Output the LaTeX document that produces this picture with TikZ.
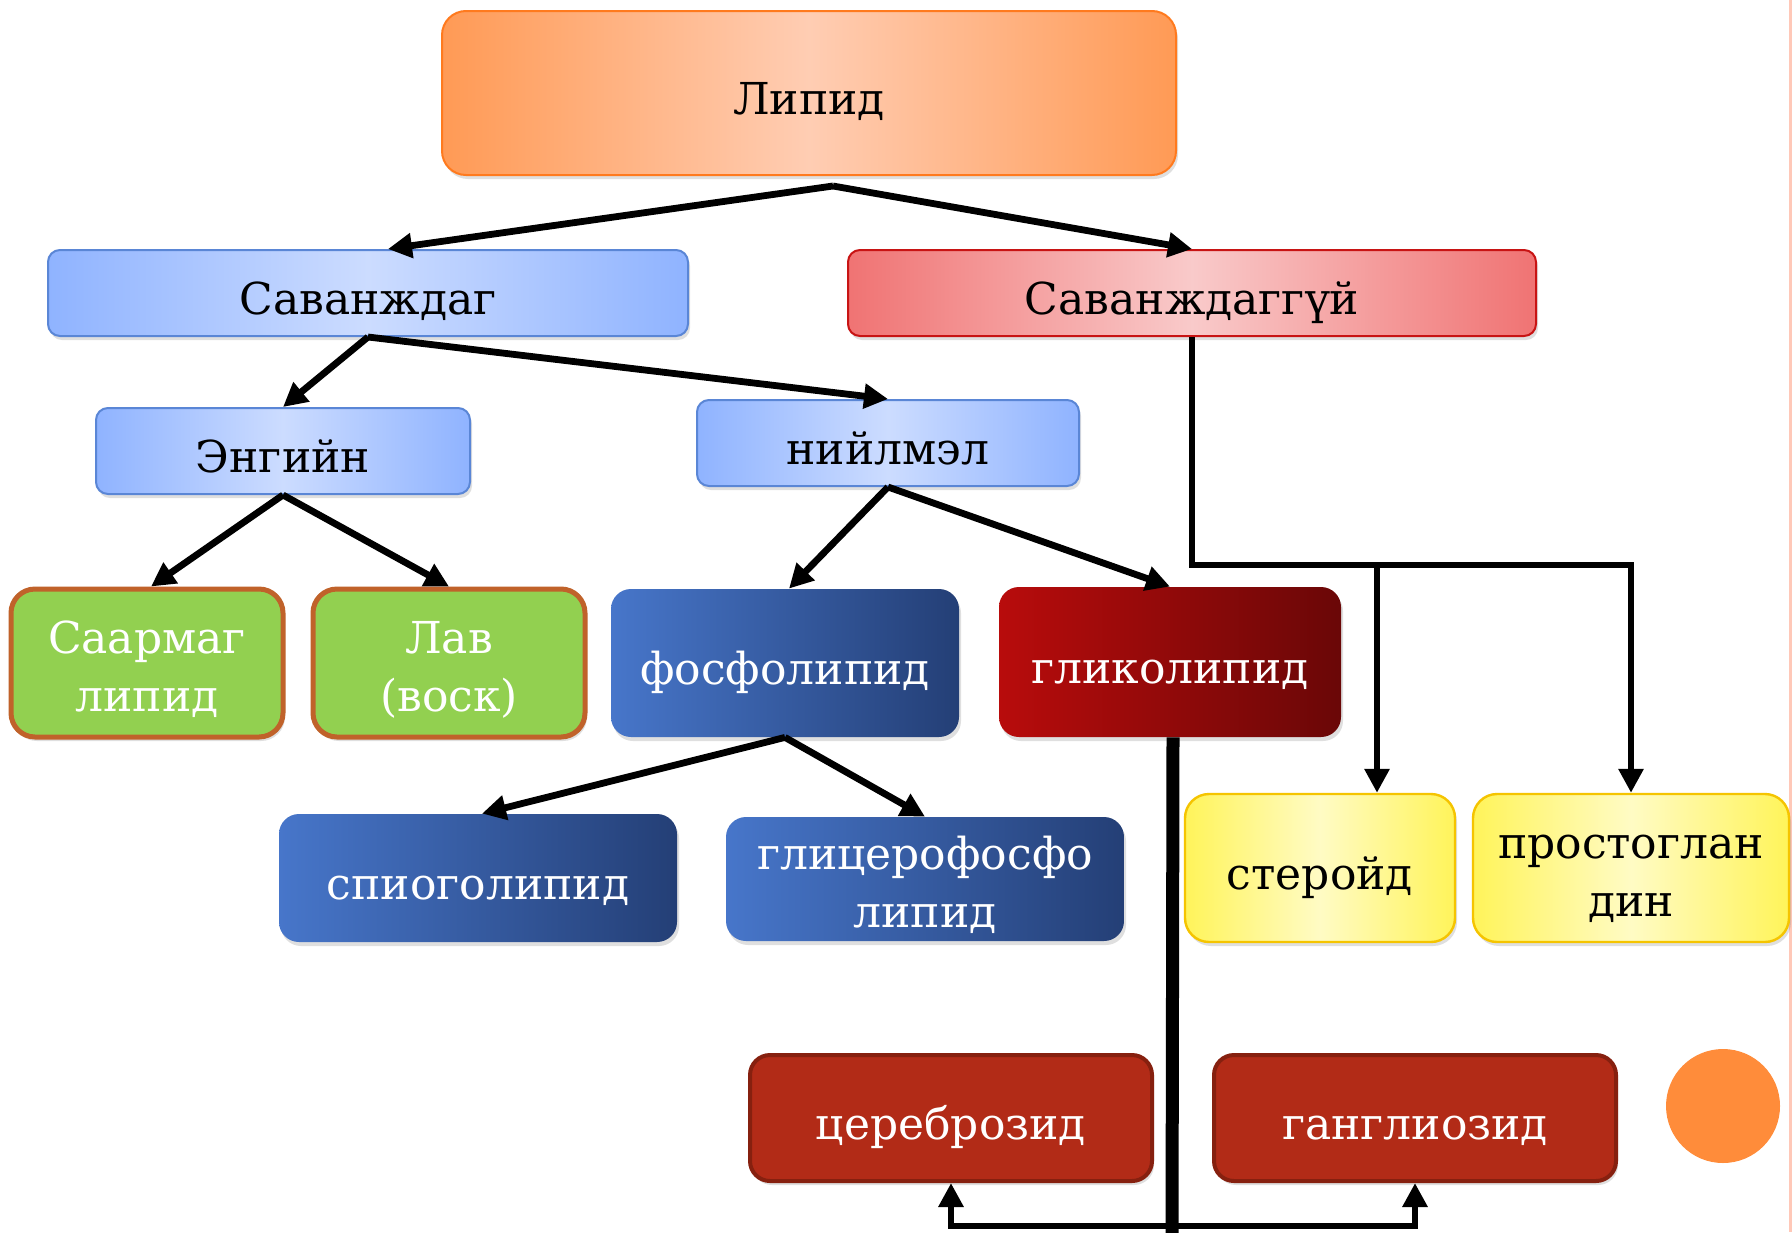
\documentclass[tikz,border=0pt]{standalone}
\usepackage{fontspec}
\setmainfont{DejaVu Serif}
\usetikzlibrary{shapes,arrows.meta,shadows}

\definecolor{peachedge}{HTML}{FF9A55}
\definecolor{peachmid}{HTML}{FFCDB3}
\definecolor{peachline}{HTML}{FF7A1E}
\definecolor{blueedge}{HTML}{8FB3FF}
\definecolor{bluemid}{HTML}{CCDCFF}
\definecolor{blueline}{HTML}{5A86D6}
\definecolor{pinkedge}{HTML}{F07373}
\definecolor{pinkmid}{HTML}{F9CACA}
\definecolor{redline}{HTML}{C81414}
\definecolor{leafgreen}{HTML}{92D050}
\definecolor{rustline}{HTML}{C0622A}
\definecolor{navyleft}{HTML}{4776CA}
\definecolor{navyright}{HTML}{243F76}
\definecolor{wineleft}{HTML}{B80C0C}
\definecolor{wineright}{HTML}{6A0707}
\definecolor{lemonedge}{HTML}{FFF45A}
\definecolor{lemonmid}{HTML}{FFFBC4}
\definecolor{lemonline}{HTML}{F5C400}
\definecolor{brick}{HTML}{B22B17}
\definecolor{brickline}{HTML}{86200F}
\definecolor{dotorange}{HTML}{FF8C3A}
\definecolor{edgepink}{HTML}{FFC8B8}

% invisible strut for the first of two lines
\newcommand{\firstline}{\rule{0pt}{24pt}}

\tikzset{
  box/.style={rounded corners=9pt, align=center, inner sep=2pt,
    font=\fontsize{22}{29}\selectfont,
    execute at begin node={\rule[-5pt]{0pt}{31pt}},
    drop shadow={opacity=0.25, shadow xshift=1pt, shadow yshift=-2pt}},
  peachbox/.style={box, draw=peachline, line width=1pt,
    left color=peachedge, right color=peachedge, middle color=peachmid},
  bluebox/.style={box, draw=blueline, line width=1pt,
    left color=blueedge, right color=blueedge, middle color=bluemid},
  pinkbox/.style={box, draw=redline, line width=1pt,
    left color=pinkedge, right color=pinkedge, middle color=pinkmid},
  greenbox/.style={box, fill=leafgreen, draw=rustline, line width=2.5pt,
    text=white, rounded corners=12pt},
  navybox/.style={box, left color=navyleft, right color=navyright,
    text=white, rounded corners=10pt},
  winebox/.style={box, left color=wineleft, right color=wineright,
    text=white, rounded corners=10pt},
  lemonbox/.style={box, draw=lemonline, line width=1.2pt,
    left color=lemonedge, right color=lemonedge, middle color=lemonmid,
    rounded corners=12pt},
  brickbox/.style={box, fill=brick, draw=brickline, line width=2pt,
    text=white, rounded corners=10pt},
  arr/.style={line width=3.4pt, -{Triangle[length=12pt,width=12pt]}},
  trunk/.style={line width=6.5pt},
}

\begin{document}
\begin{tikzpicture}[x=0.5pt,y=-0.5pt]
    \useasboundingbox (0,0) rectangle (1792,1232);
    \fill[white] (0,0) rectangle (1792,1232);
    \draw[edgepink, line width=2pt] (1791,0) -- (1791,1232);

    % top level
    \node[peachbox, minimum width=367pt, minimum height=82pt, rounded corners=12pt]
        (lipid) at (809,93) {Липид};
    \node[bluebox, minimum width=320pt, minimum height=43pt, rounded corners=6pt]
        (sav) at (368,293) {Саванждаг};
    \node[pinkbox, minimum width=344pt, minimum height=43pt, rounded corners=6pt]
        (savgui) at (1192,293) {Саванждаггүй};

    % second level
    \node[bluebox, minimum width=187pt, minimum height=43pt, rounded corners=6pt]
        (engi) at (283,451) {Энгийн};
    \node[bluebox, minimum width=191pt, minimum height=43pt, rounded corners=6pt]
        (niil) at (888,443) {нийлмэл};

    % third level
    \node[greenbox, minimum width=136pt, minimum height=74pt]
        (saarmag) at (147,663) {\firstline Саармаг\\липид};
    \node[greenbox, minimum width=136pt, minimum height=74pt]
        (lav) at (449,663) {\firstline Лав\\(воск)};
    \node[navybox, minimum width=174pt, minimum height=74pt]
        (fosfo) at (785,663) {фосфолипид};
    \node[winebox, minimum width=171pt, minimum height=75pt]
        (gliko) at (1170,662) {гликолипид};

    % fourth level
    \node[navybox, minimum width=199pt, minimum height=64pt]
        (spio) at (478,878) {спиоголипид};
    \node[navybox, minimum width=199pt, minimum height=61pt]
        (glitser) at (925,879) {\firstline глицерофосфо\\липид};
    \node[lemonbox, minimum width=135pt, minimum height=74pt]
        (steroid) at (1320,868) {стеройд};
    \node[lemonbox, minimum width=158pt, minimum height=74pt]
        (prost) at (1631,868) {\firstline простоглан\\дин};

    % bottom
    \node[brickbox, minimum width=201pt, minimum height=63pt]
        (cerebro) at (951,1118) {цереброзид};
    \node[brickbox, minimum width=201pt, minimum height=63pt]
        (gangli) at (1415,1118) {ганглиозид};
    \node[circle, fill=dotorange, minimum size=57pt, inner sep=0pt]
        (dot) at (1723,1106) {};

    % connectors
    \coordinate (apex) at ([xshift=12pt,yshift=-5pt]lipid.south);
    \draw[arr] (apex) -- ([xshift=10pt]sav.north);
    \draw[arr] (apex) -- (savgui.north);
    \draw[arr] (sav.south) -- (engi.north);
    \draw[arr] (sav.south) -- (niil.north);
    \draw[arr] (engi.south) -- ([xshift=2pt]saarmag.north);
    \draw[arr] (engi.south) -- (lav.north);
    \draw[arr] (niil.south) -- ([xshift=2pt]fosfo.north);
    \draw[arr] (niil.south) -- (gliko.north);
    \draw[arr] (fosfo.south) -- ([xshift=2pt]spio.north);
    \draw[arr] (fosfo.south) -- (glitser.north);

    \coordinate (fork) at (1377,565);
    \draw[arr] (savgui.south) |- (fork -| prost.north) -- (prost.north);
    \draw[arr] (fork) -- (fork |- steroid.north);

    \coordinate (floor) at (1172,1240);
    \coordinate (base) at (1172,1226);
    \draw[trunk] ([xshift=1.5pt]gliko.south) -- (floor);
    \draw[arr] (base) -| (cerebro.south);
    \draw[arr] (base) -| (gangli.south);
\end{tikzpicture}
\end{document}
